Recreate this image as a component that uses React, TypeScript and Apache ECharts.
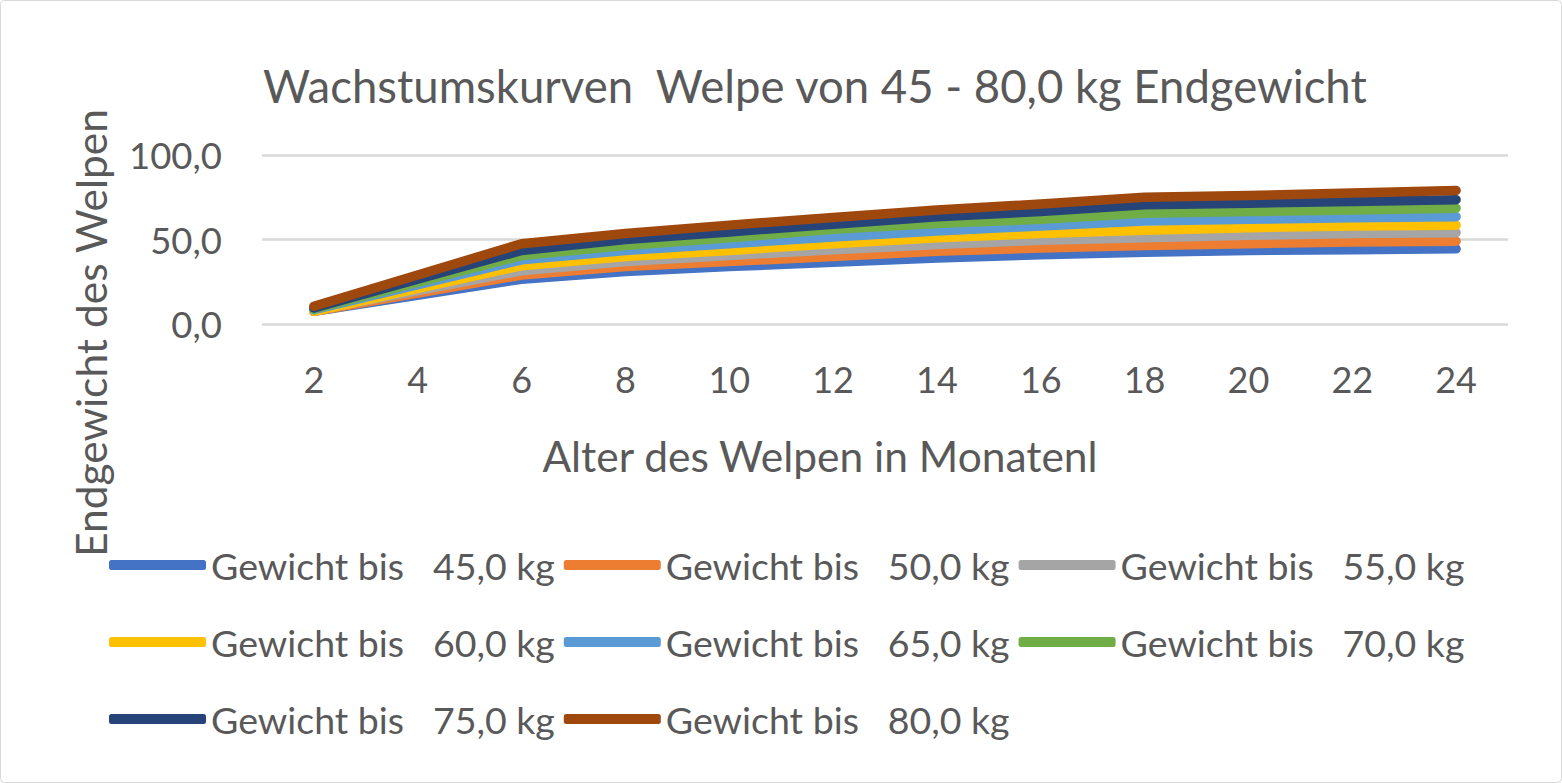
import React, { useEffect, useRef } from "react";
import * as echarts from "echarts";

const months = ["2", "4", "6", "8", "10", "12", "14", "16", "18", "20", "22", "24"];
const seriesNames = [
  "Gewicht bis   45,0 kg",
  "Gewicht bis   50,0 kg",
  "Gewicht bis   55,0 kg",
  "Gewicht bis   60,0 kg",
  "Gewicht bis   65,0 kg",
  "Gewicht bis   70,0 kg",
  "Gewicht bis   75,0 kg",
  "Gewicht bis   80,0 kg",
];
const colors = ["#4472C4", "#ED7D31", "#A5A5A5", "#FFC000", "#5B9BD5", "#70AD47", "#264478", "#9E480E"];

// values per month (4 months has no value; the line is connected across it)
const w45 = [7.5, null, 26.5, 31, 34, 36.5, 39, 41, 42.5, 43.5, 44, 44.5];
const w50 = [7.5, null, 29, 34, 37, 40, 43, 45, 46.5, 47.5, 48.5, 49];
const w55 = [8, null, 31.5, 37, 40.5, 44, 47, 49.5, 51, 52.5, 53.5, 54];
const w60 = [7.5, null, 34.5, 40, 43.5, 47.5, 51, 53.5, 55.5, 57, 58, 58.5];
const w65 = [8.5, null, 38, 43.5, 47.5, 51.5, 55, 58, 61, 62, 62.8, 63.5];
const w70 = [9, null, 40.5, 46.5, 51, 56, 59.5, 62, 65.5, 66.5, 67.5, 68.5];
const w75 = [9.5, null, 43.5, 50, 54.5, 59, 63.5, 66.5, 70.5, 71.5, 72.5, 73.5];
const w80 = [10.5, null, 47.5, 53.5, 58.5, 63, 67.5, 71, 75, 76, 77.5, 79];
const allValues = [w45, w50, w55, w60, w65, w70, w75, w80];

const FONT = "Lato";
const TXT = "#595959";

export default function App() {
  const ref = useRef<HTMLDivElement>(null);
  useEffect(() => {
    if (!ref.current) return;
    const chart = echarts.init(ref.current, null, { renderer: "svg" });
    chart.setOption({
      animation: false,
      backgroundColor: "#ffffff",
      color: colors,
      title: {
        text: "Wachstumskurven  Welpe von 45 - 80,0 kg Endgewicht",
        left: 258,
        top: 57,
        textStyle: { fontFamily: FONT, fontSize: 45.5, fontWeight: "normal", color: TXT },
      },
      grid: { left: 262, right: 54, top: 155, bottom: 459, containLabel: false },
      xAxis: {
        type: "category",
        data: months,
        boundaryGap: true,
        axisLine: { show: false },
        axisTick: { show: false },
        axisLabel: { fontFamily: FONT, fontSize: 36, color: TXT, margin: 37 },
      },
      yAxis: {
        type: "value",
        min: 0,
        max: 100,
        interval: 50,
        axisLine: { show: false },
        axisTick: { show: false },
        axisLabel: {
          fontFamily: FONT,
          fontSize: 36.5,
          color: TXT,
          margin: 40,
          formatter: (v: number) => v.toFixed(1).replace(".", ","),
        },
        splitLine: { lineStyle: { color: "#d9d9d9", width: 2.5 } },
      },
      legend: {
        left: 104,
        top: 526,
        width: 1420,
        icon: "roundRect",
        itemWidth: 97,
        itemHeight: 10,
        itemGap: 9,
        data: seriesNames,
        textStyle: {
          fontFamily: FONT,
          fontSize: 37.5,
          color: TXT,
          width: 340,
          lineHeight: 68,
          padding: [0, 0, 0, 0],
        },
      },
      graphic: [
        {
          type: "rect",
          shape: { x: 0.5, y: 0.5, width: 1561, height: 782, r: 4 },
          style: { fill: "none", stroke: "#d9d9d9", lineWidth: 1 },
          silent: true,
        },
        {
          type: "text",
          x: 90,
          y: 333,
          rotation: Math.PI / 2,
          style: {
            text: "Endgewicht des Welpen",
            fontFamily: FONT,
            fontSize: 42.5,
            fill: TXT,
            textAlign: "center",
            textVerticalAlign: "middle",
          },
        },
        {
          type: "text",
          x: 820,
          y: 455,
          style: {
            text: "Alter des Welpen in Monatenl",
            fontFamily: FONT,
            fontSize: 42.5,
            fill: TXT,
            textAlign: "center",
            textVerticalAlign: "middle",
          },
        },
      ],
      series: allValues.map((vals, i) => ({
        name: seriesNames[i],
        type: "line",
        data: vals,
        connectNulls: true,
        showSymbol: false,
        symbol: "none",
        lineStyle: { width: 9.5, cap: "round", join: "round", color: colors[i] },
        itemStyle: { color: colors[i] },
      })),
    });
    return () => chart.dispose();
  }, []);
  return <div ref={ref} style={{ position: "absolute", left: 0, top: 0, width: 1562, height: 783 }} />;
}
